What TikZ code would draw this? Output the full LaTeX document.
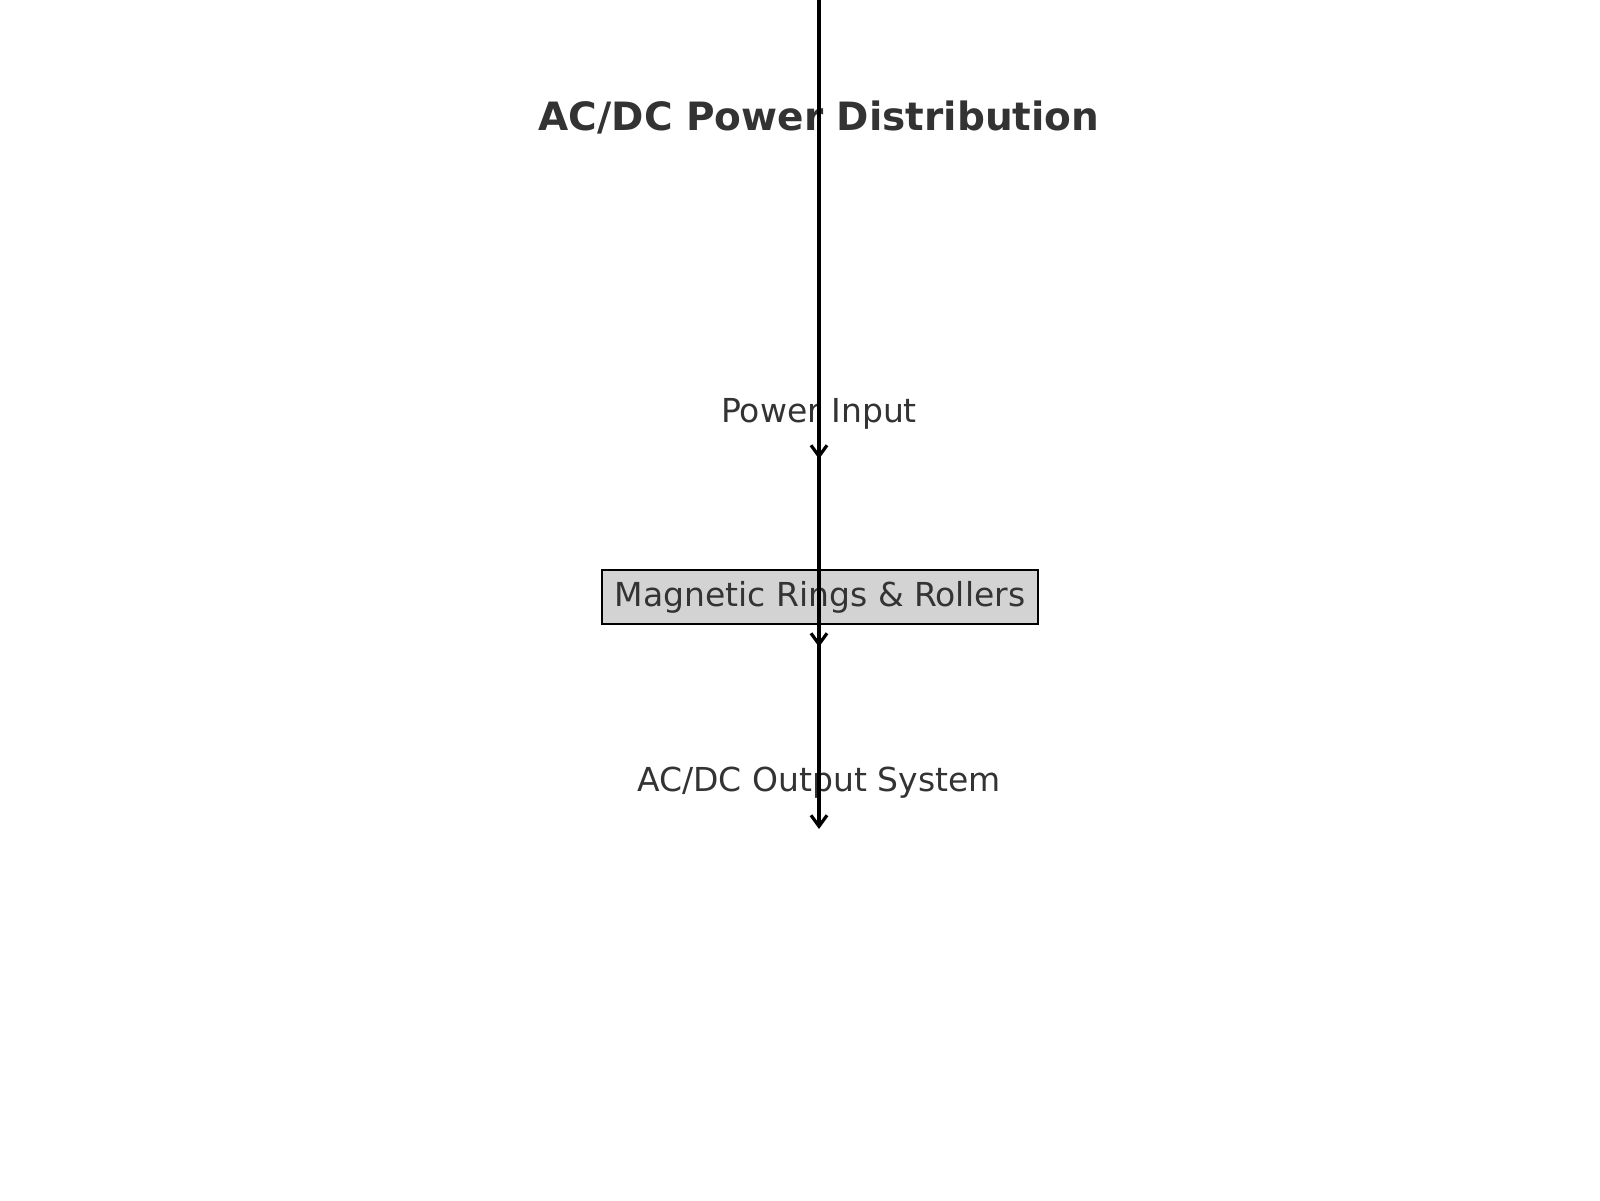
\documentclass[tikz,border=0pt]{standalone}
\usepackage{fontspec}
\setmainfont{DejaVu Sans}
\usetikzlibrary{arrows.meta}
\definecolor{txt}{HTML}{333333}
\definecolor{boxfill}{HTML}{D3D3D3}
\begin{document}
\begin{tikzpicture}[x=1pt,y=-1pt,
  lbl/.style={text=txt,font=\fontsize{33}{40}\selectfont,inner sep=0pt,anchor=base},
  ttl/.style={text=txt,font=\fontsize{39}{46}\selectfont\bfseries,inner sep=0pt,anchor=base},
  compbox/.style={draw=black,line width=2.8pt,fill=boxfill,text=txt,font=\fontsize{33}{40}\selectfont,
    minimum width=436pt,minimum height=54pt,inner sep=0pt},
  flow/.style={line width=3.4pt,-{Straight Barb[length=11pt,width=16pt,line width=3.2pt]}}]
\useasboundingbox (0,0) rectangle (1600,1200);
\coordinate (top) at (819,-5);
\coordinate (a1) at (819,459);
\coordinate (a2) at (819,647);
\coordinate (a3) at (819,829);
\node[ttl] (title) at (819,130) {AC/DC Power Distribution};
\node[lbl] (input) at (819,422) {Power Input};
\node[compbox] (rings) at (820,597) {Magnetic Rings \& Rollers};
\node[lbl] (output) at (819,791) {AC/DC Output System};
\draw[flow] (top) -- (a1);
\draw[flow] (input.center -| a1) -- (a2);
\draw[flow] (rings.center -| a1) -- (a3);
\end{tikzpicture}
\end{document}
